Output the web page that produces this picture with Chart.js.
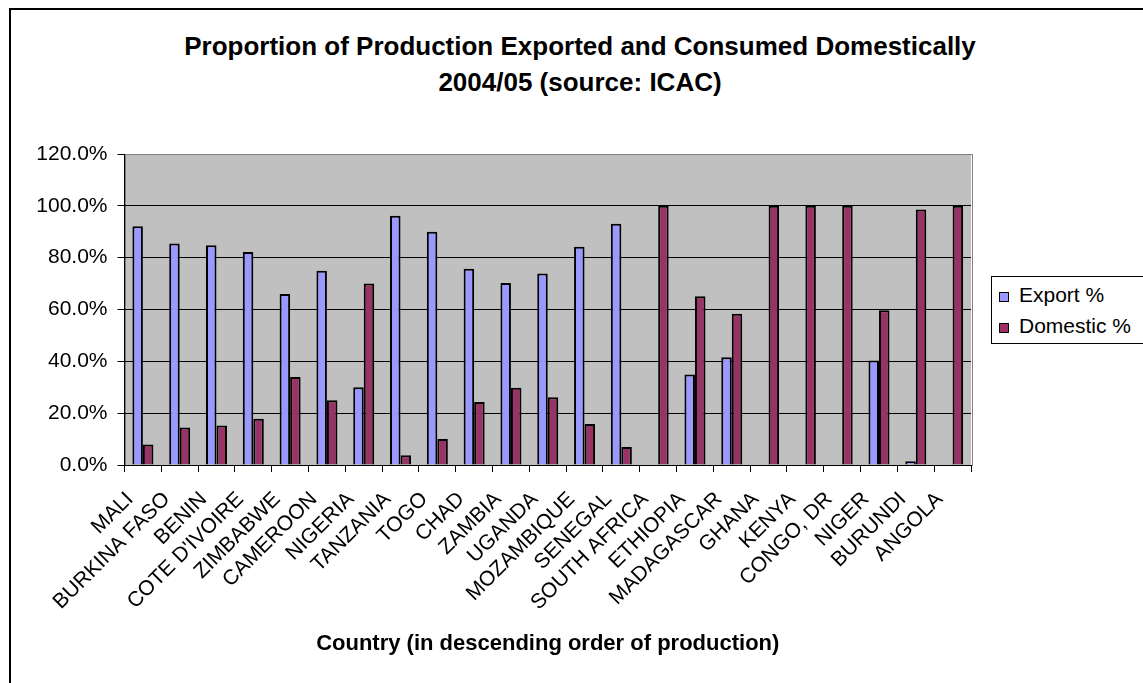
<!DOCTYPE html>
<html>
<head>
<meta charset="utf-8">
<script src="https://cdn.jsdelivr.net/npm/chart.js@4.4.1/dist/chart.umd.min.js"></script>
<style>
  html, body { margin:0; padding:0; background:#fff; overflow:hidden; }
  body { width:1143px; height:683px; position:relative; font-family: Arial, "Liberation Sans", sans-serif; }
  #frame { position:absolute; left:9px; top:8px; width:1160px; height:700px; border-left:2px solid #000; border-top:2px solid #000; }
  #title { position:absolute; left:0; top:27.5px; width:1160px; text-align:center; font-weight:bold; font-size:26px; line-height:36px; color:#000; }
  #wrap { position:absolute; left:10px; top:9px; width:1140px; height:674px; }
  #legend { position:absolute; left:991px; top:276px; width:160px; height:66px; border:1px solid #000; background:#fff; font-size:21px; color:#000; }
  #legend .item { position:absolute; left:7px; height:24px; line-height:24px; white-space:nowrap; }
  #legend .sw { display:inline-block; width:8px; height:8px; border:1px solid #000; margin-right:10px; vertical-align:0px; }
</style>
</head>
<body>
<div id="frame"></div>
<div id="title">Proportion of Production Exported and Consumed Domestically<br>2004/05 (source: ICAC)</div>
<div id="wrap"><canvas id="chart"></canvas></div>
<div id="legend"></div>
<script>
// countries, in descending order of production
const countries = ['MALI','BURKINA FASO','BENIN',"COTE D'IVOIRE",'ZIMBABWE','CAMEROON','NIGERIA','TANZANIA',
  'TOGO','CHAD','ZAMBIA','UGANDA','MOZAMBIQUE','SENEGAL','SOUTH AFRICA','ETHIOPIA','MADAGASCAR','GHANA',
  'KENYA','CONGO, DR','NIGER','BURUNDI','ANGOLA'];
const exportPct   = [92.1, 85.5, 84.8, 82.2, 66.0, 75.0, 30.0, 96.2, 90.0, 75.7, 70.2, 73.9, 84.2, 93.1, 0, 34.9, 41.6, 0, 0, 0, 40.3, 1.4, 0];
const domesticPct = [7.9, 14.5, 15.2, 17.8, 34.0, 25.0, 70.0, 3.8, 10.0, 24.3, 29.8, 26.1, 15.8, 6.9, 100, 65.1, 58.4, 100, 100, 100, 59.7, 98.6, 100];
const yTicks = [0, 20, 40, 60, 80, 100, 120];

const seriesNames = ['Export %', 'Domestic %'];
const seriesColors = ['#9999FF', '#993366'];

Chart.defaults.font.family = 'Arial, "Liberation Sans", sans-serif';
Chart.defaults.color = '#000';

// gray plot area with gray border (top/right)
const plotBg = {
  id: 'plotBg',
  beforeDraw(chart){
    const a = chart.chartArea, c = chart.ctx;
    c.save();
    c.fillStyle = '#C0C0C0';
    c.fillRect(a.left, a.top, a.right - a.left, a.bottom - a.top);
    c.strokeStyle = '#808080';
    c.lineWidth = 1;
    c.strokeRect(Math.round(a.left)+0.5, Math.round(a.top)+0.5, Math.round(a.right - a.left), Math.round(a.bottom - a.top));
    c.restore();
  }
};

const ctx = document.getElementById('chart').getContext('2d');
const chart = new Chart(ctx, {
  type: 'bar',
  data: {
    labels: countries,
    datasets: [
      { label: seriesNames[0], data: exportPct, backgroundColor: seriesColors[0], borderColor:'#000', borderWidth:2, borderSkipped:'start' },
      { label: seriesNames[1], data: domesticPct, backgroundColor: seriesColors[1], borderColor:'#000', borderWidth:2, borderSkipped:'start' }
    ]
  },
  options: {
    responsive: true,
    maintainAspectRatio: false,
    animation: false,
    layout: { padding: { left: 0, right: 179, top: 145, bottom: 26 } },
    datasets: { bar: { categoryPercentage: 0.571, barPercentage: 1.0 } },
    plugins: { legend: { display:false }, tooltip: { enabled:false } },
    scales: {
      x: {
        grid: { offset:true, drawOnChartArea:false, drawTicks:true, tickLength:7, color:'#000', tickColor:'#000' },
        border: { color:'#000', width:1 },
        ticks: { autoSkip:false, maxRotation:45, minRotation:45, padding:15, labelOffset:-13, font:{ size:21 } },
        title: { display:true, text:'Country (in descending order of production)', font:{ size:22, weight:'bold' }, padding:{ top:4, bottom:0 } },
        afterFit(scale){ scale.height = 192; }
      },
      y: {
        min: 0, max: 120,
        afterBuildTicks(scale){ scale.ticks = yTicks.map(v => ({ value: v })); },
        grid: {
          color: c => (c.tick && c.tick.value === 120) ? '#808080' : '#000',
          tickColor: '#000', tickLength: 7, lineWidth: 1
        },
        border: { color:'#000', width:1 },
        ticks: { padding:10, font:{ size:21 }, callback: v => v.toFixed(1) + '%' },
        afterFit(scale){ scale.width = 114.5; }
      }
    }
  },
  plugins: [plotBg]
});

// legend box
const leg = document.getElementById('legend');
seriesNames.forEach((n, i) => {
  const it = document.createElement('div');
  it.className = 'item';
  it.style.top = (6 + i * 31) + 'px';
  it.innerHTML = '<span class="sw" style="background:' + seriesColors[i] + '"></span>' + n;
  leg.appendChild(it);
});
</script>
</body>
</html>
